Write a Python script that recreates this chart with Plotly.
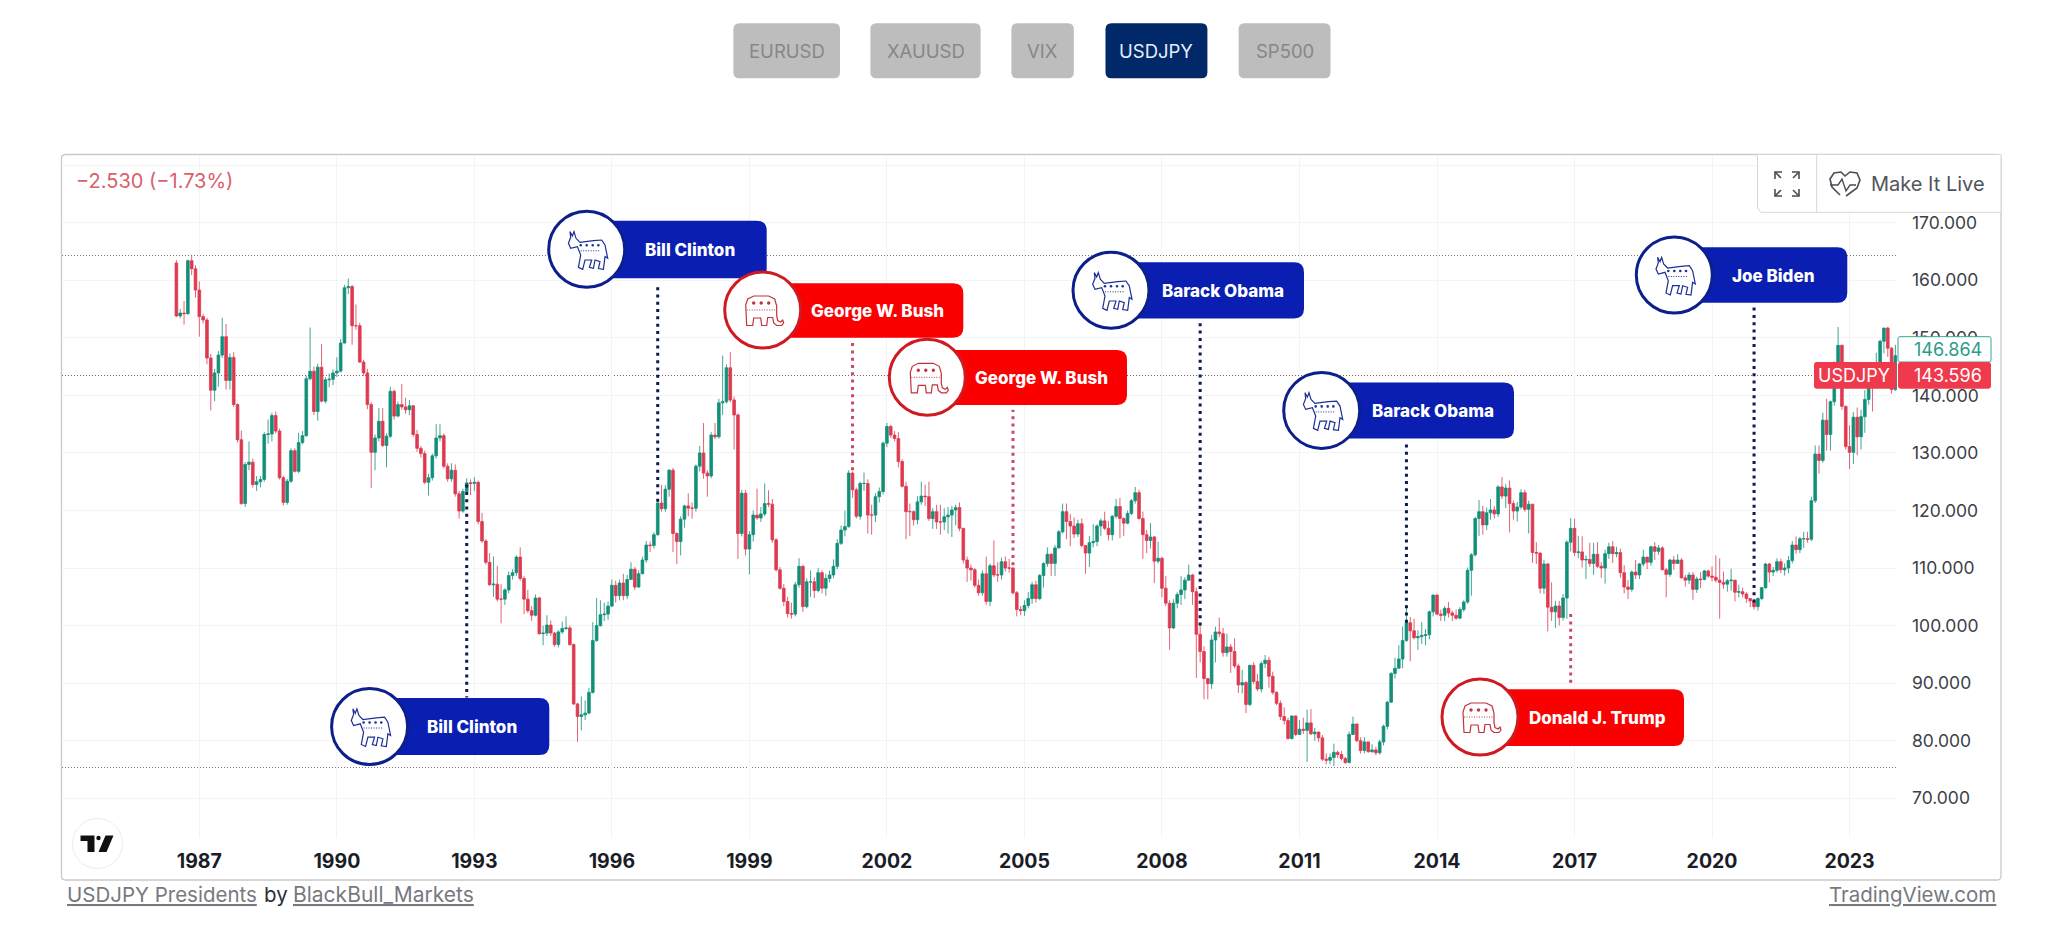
import plotly.graph_objects as go

W, H = 2048, 927

# monthly bars, Jul 1986 to Jan 2024, one row per year
closes = [
    153.8, 154.3, 154.2, 163.4, 162.0, 158.3,
    153.7, 153.1, 146.5, 140.9, 143.9, 147.0, 150.2, 142.6, 146.6, 138.4, 132.3, 121.2,
    128.0, 128.4, 124.5, 125.0, 125.4, 133.2, 133.3, 136.5, 133.8, 125.7, 121.4, 125.1,
    130.4, 126.8, 131.8, 133.0, 142.9, 144.2, 137.2, 144.9, 139.0, 142.7, 142.8, 143.9,
    144.2, 149.1, 158.7, 158.9, 152.1, 152.1, 145.8, 143.9, 138.4, 130.1, 132.6, 135.5,
    131.3, 132.9, 140.7, 136.4, 138.4, 138.0, 137.5, 138.2, 133.2, 130.8, 129.9, 124.9,
    125.7, 129.5, 132.6, 133.0, 127.7, 125.5, 127.0, 122.9, 119.9, 123.3, 124.8, 124.7,
    124.9, 118.1, 114.7, 111.0, 107.1, 107.2, 104.6, 104.6, 106.2, 108.7, 109.2, 111.9,
    108.2, 104.6, 102.6, 101.8, 104.8, 98.6, 98.7, 100.1, 98.7, 96.7, 98.9, 99.5,
    99.6, 96.7, 86.4, 84.2, 84.5, 84.8, 88.4, 97.4, 100.0, 101.9, 102.0, 103.4,
    107.0, 105.2, 107.4, 105.2, 108.0, 109.8, 106.7, 109.0, 111.4, 114.0, 113.9, 115.8,
    121.3, 120.3, 123.7, 127.0, 116.0, 114.6, 118.5, 120.8, 120.4, 120.4, 127.7, 130.0,
    126.5, 126.0, 133.1, 132.8, 138.7, 138.9, 144.8, 139.2, 136.6, 116.0, 123.0, 113.3,
    115.8, 119.2, 118.7, 119.4, 121.2, 121.1, 114.9, 109.7, 106.5, 104.2, 102.1, 102.0,
    107.1, 110.3, 103.3, 107.6, 107.6, 106.1, 109.2, 106.5, 108.2, 108.8, 110.3, 114.3,
    116.6, 117.2, 126.5, 123.6, 119.0, 124.7, 124.7, 119.2, 119.2, 122.4, 123.3, 131.7,
    134.6, 133.1, 132.5, 128.5, 124.2, 119.8, 119.8, 118.4, 121.5, 122.5, 122.4, 118.6,
    119.8, 118.0, 118.0, 118.9, 119.2, 120.1, 120.5, 116.9, 111.4, 110.0, 109.7, 107.0,
    105.7, 109.0, 104.2, 110.4, 108.8, 108.8, 111.1, 110.0, 110.0, 105.7, 102.8, 102.6,
    103.5, 104.7, 107.1, 104.7, 108.7, 110.8, 112.4, 110.8, 113.5, 116.3, 119.8, 118.1,
    117.3, 115.9, 117.7, 113.9, 112.6, 114.4, 114.6, 117.3, 118.2, 116.9, 115.8, 119.0,
    120.7, 118.6, 117.8, 119.5, 121.7, 123.1, 118.6, 115.8, 114.8, 115.4, 111.2, 111.7,
    106.5, 103.9, 99.6, 103.9, 105.4, 106.2, 107.9, 108.8, 105.9, 98.5, 95.5, 90.8,
    89.9, 97.5, 98.9, 98.6, 95.3, 96.3, 95.5, 93.0, 89.7, 90.1, 86.3, 93.1,
    90.3, 89.0, 93.4, 94.0, 91.2, 88.4, 86.5, 84.2, 83.5, 80.4, 84.3, 81.1,
    82.0, 81.8, 83.1, 81.2, 81.5, 80.5, 76.8, 76.6, 77.1, 78.0, 77.6, 76.9,
    76.2, 81.1, 82.9, 80.0, 78.3, 79.8, 78.1, 78.4, 77.9, 79.8, 82.5, 86.7,
    91.7, 92.6, 94.2, 97.4, 100.5, 99.1, 97.9, 98.1, 98.3, 98.4, 102.4, 105.3,
    102.0, 101.8, 103.0, 102.2, 101.8, 101.3, 102.8, 104.1, 109.6, 112.3, 118.6, 119.8,
    117.5, 119.6, 120.1, 119.4, 124.1, 122.5, 123.9, 121.2, 119.9, 120.6, 123.1, 120.2,
    121.1, 112.7, 112.6, 106.5, 110.7, 103.2, 102.4, 103.4, 101.4, 104.8, 114.5, 116.9,
    112.7, 112.8, 111.4, 111.5, 110.8, 112.4, 110.3, 110.0, 112.5, 113.7, 112.5, 112.7,
    109.2, 106.7, 106.3, 109.3, 108.8, 110.7, 111.9, 111.0, 113.7, 112.9, 113.5, 109.7,
    108.9, 111.4, 110.8, 111.4, 108.3, 107.9, 108.8, 106.3, 108.1, 108.0, 109.5, 108.6,
    108.4, 107.9, 107.5, 107.2, 107.8, 107.9, 105.8, 105.9, 105.5, 104.7, 104.3, 103.3,
    104.7, 106.6, 110.7, 109.3, 109.6, 111.1, 109.7, 110.0, 111.3, 114.0, 113.2, 115.1,
    115.1, 115.0, 121.7, 129.8, 128.7, 135.7, 133.2, 138.9, 144.7, 148.7, 138.1, 131.1,
    130.1, 136.2, 132.8, 136.3, 139.3, 144.3, 142.3, 145.5, 149.4, 151.7, 148.2, 141.0,
    146.9,
]
highs = [
    163.5, 155.0, 156.4, 163.6, 164.4, 162.6,
    159.8, 154.1, 153.5, 147.2, 144.6, 147.7, 153.5, 152.4, 147.3, 147.5, 138.6, 133.9,
    128.4, 132.0, 129.0, 126.0, 126.0, 133.6, 135.8, 137.0, 137.2, 134.2, 126.0, 125.5,
    130.8, 130.8, 133.5, 133.8, 143.4, 151.8, 145.0, 145.5, 148.9, 143.2, 143.8, 144.5,
    146.6, 149.8, 159.2, 160.3, 159.2, 155.8, 152.6, 146.2, 144.6, 138.8, 133.2, 137.8,
    137.8, 133.4, 141.5, 141.0, 138.9, 142.0, 139.6, 139.2, 137.6, 134.0, 131.2, 130.4,
    126.4, 129.9, 135.0, 135.0, 133.4, 128.2, 128.2, 128.0, 123.4, 123.8, 125.6, 125.4,
    125.8, 125.2, 119.6, 115.0, 112.6, 112.0, 110.4, 107.2, 106.5, 109.4, 109.8, 112.2,
    113.6, 108.6, 106.2, 103.4, 105.4, 105.0, 100.0, 101.8, 100.9, 98.9, 99.2, 100.7,
    101.6, 100.0, 96.9, 86.6, 87.7, 87.0, 89.2, 100.6, 104.8, 104.4, 104.0, 104.2,
    108.0, 107.8, 108.0, 109.0, 108.8, 111.0, 110.2, 109.6, 112.0, 114.7, 114.6, 116.2,
    121.8, 124.4, 124.4, 127.2, 127.4, 116.2, 119.0, 121.0, 123.0, 121.4, 128.0, 131.2,
    135.2, 127.0, 133.6, 135.2, 139.4, 146.9, 145.4, 147.5, 139.8, 136.9, 123.6, 123.6,
    116.4, 120.0, 123.8, 120.6, 124.7, 123.5, 122.0, 115.2, 110.2, 107.2, 105.0, 104.0,
    107.6, 111.7, 110.6, 108.2, 109.6, 108.4, 110.0, 109.6, 109.0, 109.6, 111.5, 115.0,
    117.4, 120.0, 127.0, 126.8, 124.0, 125.0, 126.6, 125.4, 121.0, 123.0, 124.0, 132.0,
    135.2, 134.9, 133.8, 133.6, 128.9, 125.0, 121.2, 120.0, 122.5, 125.0, 124.5, 125.0,
    120.4, 121.0, 121.0, 120.4, 120.6, 120.8, 121.0, 121.4, 117.0, 112.0, 110.6, 110.0,
    108.0, 109.6, 112.0, 110.8, 114.8, 111.0, 111.8, 112.0, 111.6, 110.2, 106.0, 103.4,
    104.4, 105.8, 107.6, 107.8, 109.0, 111.0, 113.6, 112.6, 114.0, 116.6, 121.2, 121.2,
    119.4, 118.8, 118.4, 118.6, 114.0, 115.6, 117.6, 117.6, 118.6, 119.8, 118.2, 119.2,
    122.0, 122.2, 118.8, 120.0, 122.0, 124.1, 123.6, 119.8, 116.6, 117.8, 115.6, 114.6,
    112.0, 108.6, 104.4, 104.6, 105.8, 108.6, 108.4, 110.6, 109.0, 106.6, 100.4, 96.4,
    90.8, 98.4, 99.8, 101.4, 99.6, 98.6, 96.8, 97.8, 93.4, 92.3, 90.4, 93.2,
    93.6, 91.6, 93.8, 94.9, 94.6, 92.0, 88.6, 87.0, 85.8, 84.0, 84.4, 84.4,
    83.6, 84.0, 85.4, 85.5, 82.2, 81.6, 81.0, 77.8, 77.8, 79.5, 78.3, 78.2,
    77.2, 81.6, 84.2, 83.0, 80.6, 80.6, 79.8, 79.4, 78.9, 80.2, 82.8, 86.9,
    91.9, 94.4, 96.6, 99.8, 103.6, 101.5, 101.2, 99.2, 100.6, 99.4, 102.6, 105.4,
    105.4, 102.8, 103.4, 104.1, 102.6, 102.8, 103.2, 104.4, 110.1, 112.6, 118.9, 121.8,
    120.8, 120.5, 122.0, 120.8, 124.4, 125.8, 124.6, 125.2, 121.7, 121.5, 123.7, 123.6,
    121.7, 121.1, 114.5, 112.7, 111.4, 110.9, 107.5, 104.3, 104.3, 105.5, 114.8, 118.7,
    118.6, 115.6, 115.5, 112.2, 114.4, 114.4, 114.5, 111.0, 113.2, 114.4, 114.7, 113.7,
    113.4, 110.5, 107.9, 109.6, 111.4, 110.9, 113.2, 111.8, 113.9, 114.5, 114.0, 113.8,
    110.0, 111.6, 112.1, 112.4, 111.7, 108.8, 109.3, 109.3, 108.5, 109.3, 109.7, 109.7,
    110.3, 112.2, 111.7, 109.4, 108.1, 109.9, 107.6, 107.1, 106.6, 105.8, 104.8, 104.7,
    104.9, 106.7, 110.9, 110.9, 110.2, 111.7, 111.6, 110.8, 112.1, 114.7, 115.5, 115.4,
    116.3, 116.3, 122.4, 131.3, 131.3, 137.0, 139.4, 139.1, 145.9, 151.9, 148.8, 138.2,
    134.8, 137.1, 137.9, 137.5, 140.9, 145.0, 144.9, 147.4, 149.7, 151.7, 151.9, 148.4,
    148.8,
]
lows = [
    153.6, 153.4, 152.3, 154.0, 160.9, 157.0,
    150.2, 152.5, 145.4, 137.4, 139.0, 141.5, 146.5, 141.0, 141.0, 138.0, 131.8, 121.0,
    120.6, 127.0, 124.0, 123.4, 124.0, 125.0, 131.6, 132.0, 133.4, 125.4, 120.9, 121.0,
    124.8, 126.6, 126.5, 131.5, 132.8, 142.6, 136.6, 135.6, 138.8, 138.6, 141.4, 141.8,
    143.2, 144.0, 149.0, 157.6, 148.8, 151.4, 145.6, 143.4, 137.6, 123.9, 127.0, 132.0,
    131.0, 127.5, 132.6, 135.8, 136.2, 137.5, 136.8, 136.6, 132.8, 130.2, 129.2, 124.6,
    122.6, 125.2, 129.0, 132.0, 127.3, 125.0, 125.0, 122.4, 118.6, 119.6, 123.0, 122.7,
    123.4, 117.6, 114.4, 110.6, 106.9, 105.0, 104.2, 100.4, 103.6, 105.6, 108.0, 108.6,
    107.8, 102.0, 102.2, 100.8, 101.6, 98.4, 96.6, 98.2, 98.2, 96.3, 96.2, 98.6,
    99.2, 96.5, 86.2, 79.8, 81.8, 83.6, 84.6, 88.2, 97.2, 99.8, 100.8, 101.0,
    103.2, 104.0, 104.4, 104.4, 104.6, 108.0, 106.2, 106.6, 109.0, 110.9, 112.8, 113.4,
    115.6, 119.8, 119.8, 122.4, 112.8, 110.7, 112.2, 117.0, 119.0, 118.6, 119.8, 126.8,
    125.5, 122.4, 125.6, 132.4, 132.5, 136.6, 138.6, 138.8, 130.6, 111.6, 115.5, 112.2,
    108.9, 114.6, 118.4, 118.0, 119.0, 120.6, 114.4, 109.4, 106.2, 103.4, 101.4, 101.2,
    101.6, 106.6, 102.4, 103.0, 105.0, 104.8, 105.8, 105.6, 105.2, 107.5, 108.2, 109.8,
    114.0, 115.5, 117.0, 122.2, 118.6, 118.4, 123.4, 116.0, 115.8, 118.0, 121.4, 122.8,
    131.0, 132.6, 132.0, 127.5, 124.0, 115.0, 115.6, 117.4, 117.6, 121.0, 120.8, 118.2,
    116.8, 116.8, 115.8, 116.6, 116.0, 115.4, 117.4, 116.4, 110.8, 107.6, 107.8, 106.6,
    105.2, 105.2, 103.6, 103.4, 108.4, 107.6, 108.0, 109.4, 109.2, 105.4, 101.6, 101.8,
    101.7, 103.0, 103.8, 104.0, 104.4, 106.6, 110.2, 108.6, 108.6, 113.4, 116.0, 115.0,
    113.8, 115.2, 115.4, 113.6, 109.0, 110.2, 113.6, 113.8, 115.6, 116.6, 114.8, 114.8,
    118.6, 115.2, 115.6, 117.6, 119.2, 121.2, 118.4, 111.6, 112.6, 113.4, 107.4, 110.8,
    104.9, 103.4, 95.8, 99.4, 103.0, 103.6, 104.6, 107.8, 103.6, 90.9, 93.6, 87.2,
    87.2, 89.0, 93.6, 98.0, 94.6, 94.6, 91.8, 92.6, 88.3, 88.2, 84.8, 86.0,
    89.8, 88.6, 88.4, 92.6, 89.2, 88.0, 86.2, 83.6, 82.8, 80.2, 80.2, 80.8,
    81.0, 81.2, 76.3, 81.0, 80.0, 79.8, 76.5, 75.9, 75.9, 75.6, 77.0, 76.6,
    76.0, 76.1, 81.0, 79.8, 77.8, 77.8, 77.9, 77.9, 77.5, 77.6, 79.2, 82.0,
    86.6, 90.8, 92.6, 92.6, 97.2, 93.8, 97.6, 95.8, 96.8, 96.6, 97.6, 101.6,
    101.8, 100.8, 100.8, 101.4, 100.8, 101.0, 101.1, 102.4, 103.8, 105.2, 112.0, 115.6,
    115.8, 116.6, 118.4, 118.6, 118.9, 122.0, 120.4, 116.2, 118.4, 118.1, 120.2, 119.8,
    116.0, 110.9, 110.7, 105.6, 105.5, 99.0, 100.8, 99.6, 100.0, 100.9, 101.2, 112.9,
    112.1, 111.7, 110.1, 108.1, 110.2, 108.8, 110.0, 108.3, 107.3, 111.6, 110.9, 111.9,
    108.3, 105.6, 104.6, 105.9, 108.1, 108.1, 110.3, 109.8, 110.4, 111.4, 112.3, 109.6,
    104.9, 108.5, 109.7, 110.8, 108.2, 106.8, 107.2, 104.5, 105.7, 106.5, 107.9, 108.3,
    107.7, 107.5, 101.2, 106.4, 105.9, 106.1, 104.2, 104.9, 104.9, 104.0, 103.2, 102.8,
    102.6, 104.4, 106.4, 107.5, 108.6, 109.2, 109.1, 108.7, 109.1, 110.8, 112.5, 112.6,
    113.5, 114.4, 114.7, 121.3, 126.4, 128.3, 130.4, 130.4, 138.2, 143.5, 137.5, 130.6,
    127.2, 128.1, 129.6, 130.6, 133.5, 138.4, 137.2, 141.5, 144.4, 147.3, 146.7, 140.3,
    140.8,
]
first_open = 163.0

year_labels = ["1987", "1990", "1993", "1996", "1999", "2002", "2005", "2008", "2011", "2014", "2017", "2020", "2023"]
year_bars = [6, 42, 78, 114, 150, 186, 222, 258, 294, 330, 366, 402, 438]
price_ticks = [70, 80, 90, 100, 110, 120, 130, 140, 150, 160, 170, 180]
price_labels = ["70.000", "80.000", "90.000", "100.000", "110.000", "120.000", "130.000", "140.000", "150.000", "160.000", "170.000", ""]

range_high = 164.4
range_low = 75.5
last_price = 143.5

# president label, party, bar the dotted line sits on, dotted line price range
pres_names = ["Bill Clinton", "Bill Clinton", "George W. Bush", "George W. Bush", "Barack Obama", "Barack Obama", "Donald J. Trump", "Joe Biden"]
pres_party = ["D", "D", "R", "R", "D", "D", "R", "D"]
pres_bars = [76, 126, 177, 219, 268, 322, 365, 413]
pres_from = [124.5, 121.5, 127.0, 110.5, 100.0, 100.5, 102.0, 104.0]
pres_to = [87.5, 159.5, 149.3, 137.5, 152.7, 131.7, 89.8, 155.8]

buttons = ["EURUSD", "XAUUSD", "VIX", "USDJPY", "SP500"]

BLUE = "#0a1fb2"
NAVY = "#0c1f8a"
RED = "#fb0000"
DARKRED = "#d01a22"
FONT = "Inter"


def px(x, y):
    return x / W, 1 - y / H


def path(points, close=False):
    out = []
    for n, p in enumerate(points):
        a, b = px(*p)
        out.append(("M" if n == 0 else "L") + f"{a:.5f},{b:.5f}")
    return " ".join(out) + (" Z" if close else "")


def round_rect(x0, y0, x1, y1, r):
    c = []
    for cmd, pts in [("M", [(x0 + r, y0)]), ("L", [(x1 - r, y0)]), ("Q", [(x1, y0), (x1, y0 + r)]),
                     ("L", [(x1, y1 - r)]), ("Q", [(x1, y1), (x1 - r, y1)]), ("L", [(x0 + r, y1)]),
                     ("Q", [(x0, y1), (x0, y1 - r)]), ("L", [(x0, y0 + r)]), ("Q", [(x0, y0), (x0 + r, y0)])]:
        c.append(cmd + " ".join("%.5f,%.5f" % px(*p) for p in pts))
    return " ".join(c) + " Z"


shapes = []
notes = []


def add_path(d, fill=None, line=None, width=1, dash=None, layer="above"):
    ln = dict(color=line or "rgba(0,0,0,0)", width=width if line else 0)
    if dash:
        ln["dash"] = dash
    shapes.append(dict(type="path", xref="paper", yref="paper", path=d, fillcolor=fill or "rgba(0,0,0,0)", line=ln, layer=layer))


def add_box(x0, y0, x1, y1, r, fill=None, line=None, width=1, layer="above"):
    add_path(round_rect(x0, y0, x1, y1, r), fill, line, width, layer=layer)


def add_text(text, x, y, size, color, anchor="center", weight=None):
    a, b = px(x, y)
    font = dict(family=FONT, size=size, color=color)
    if weight:
        font["weight"] = weight
    notes.append(dict(text=text, x=a, y=b, xref="paper", yref="paper", xanchor=anchor, yanchor="middle", showarrow=False, font=font))


def add_circle(cx, cy, r, fill, line, width):
    a0, b0 = px(cx - r, cy + r)
    a1, b1 = px(cx + r, cy - r)
    shapes.append(dict(type="circle", xref="paper", yref="paper", x0=a0, x1=a1, y0=b0, y1=b1, fillcolor=fill, line=dict(color=line, width=width), layer="above"))


def add_hline(y, color):
    y = round(y) + 0.5
    a0, b = px(PLOT_L, y)
    a1, _ = px(PLOT_R, y)
    shapes.append(dict(type="line", xref="paper", yref="paper", x0=a0, x1=a1, y0=b, y1=b, line=dict(color=color, width=1, dash="1px,2px"), layer="below"))


def donkey(cx, cy):
    c = "#1c2f96"
    pts = [(-16.7, -17.7), (-14.3, -13.3), (-12.7, -17.7), (-10.7, -11), (-6.7, -7), (6.7, -8.7), (15, -9.3), (18.3, -4.3),
           (21, 9), (18.3, 7.3), (16.7, 20), (11.7, 19.3), (13.3, 12.3), (8.3, 10.7), (6.7, 19), (2.7, 18), (5, 10.7),
           (-1.7, 10.7), (-4, 20), (-8.3, 18), (-6, 5.7), (-9.3, -2.7), (-16, -1), (-18.3, -6), (-16, -12)]
    add_path(path([(cx + a, cy + b) for a, b in pts], True), None, c, 1.2)
    for a in [-6, 0, 6, 11.7]:
        add_circle(cx + a, cy - 4, 1.3, c, c, 0)
    add_path(path([(cx - 6, cy + 1.5), (cx + 14, cy + 1.5)]), None, c, 1, "1px,1.5px")


def elephant(cx, cy):
    c = "#c4313a"
    pts = [(-16, 15.5), (-17, -5), (-15, -11), (-9, -14), (6, -14), (12, -11), (14, -4), (14, 6), (15, 10.5), (18, 12), (20, 10),
           (21, 13), (19, 15.5), (14, 15.5), (11, 13), (10, 7.5), (5, 7.5), (4, 15.5), (-1, 15.5), (-2, 8), (-9, 8), (-10, 15.5)]
    add_path(path([(cx + a, cy + b) for a, b in pts], True), None, c, 1.2)
    for a in [-9, -1.5, 6]:
        add_circle(cx + a, cy - 7, 1.7, c, c, 0)
    add_path(path([(cx - 16, cy), (cx + 14, cy)]), None, c, 1, "1px,1.5px")


# pixel layout of the chart pane
PLOT_L, PLOT_R, PLOT_T, PLOT_B = 62, 1897, 155, 838
BAR0_X, BAR_W = 176.4, 3.82
Y170, Y_PER = 222.7, 5.756

opens = [first_open] + closes[:-1]
bars = list(range(len(closes)))

fig = go.Figure()
fig.add_trace(go.Candlestick(
    x=bars, open=opens, high=highs, low=lows, close=closes,
    increasing=dict(line=dict(color="#128f78", width=0.8), fillcolor="#128f78"),
    decreasing=dict(line=dict(color="#dd3a50", width=0.8), fillcolor="#dd3a50"),
    whiskerwidth=0, hoverinfo="skip", showlegend=False,
))

for party, bar, a, b in zip(pres_party, pres_bars, pres_from, pres_to):
    fig.add_trace(go.Scatter(
        x=[bar, bar], y=[a, b], mode="lines", showlegend=False, hoverinfo="skip",
        line=dict(color="#0b1a50" if party == "D" else "#c84a68", width=3, dash="3px,4.3px"),
    ))

# pane frame and the dotted range lines
add_box(61.5, 154.5, 2001, 880, 4, None, "#c9c9c9", 1.3, layer="below")
add_hline(Y170 + (170 - range_high) * Y_PER, "#777777")
add_hline(Y170 + (170 - last_price) * Y_PER, "#8a5a5a")
add_hline(Y170 + (170 - range_low) * Y_PER, "#777777")

# president labels: circle centre, box right edge, box top and bottom, text centre
label_px = [
    (369.6, 726.5, 549.3, 698, 755, 471.5),
    (586.7, 249.3, 766.7, 220.7, 278.3, 690),
    (762.7, 310, 963.3, 283.3, 337.7, 877.3),
    (927.3, 377.3, 1127, 350, 405, 1041),
    (1111, 290.3, 1304, 262.3, 318.4, 1223),
    (1321.7, 410.4, 1514, 382.6, 438.4, 1433),
    (1480, 717, 1684, 689.3, 746, 1597),
    (1674.3, 275, 1847.3, 247.3, 302.7, 1773.3),
]
for name, party, lp in zip(pres_names, pres_party, label_px):
    cx, cy, right, top, bottom, tx = lp
    col = BLUE if party == "D" else RED
    add_box(cx, top, right, bottom, 10, col)
    add_circle(cx, cy, 38, "white", NAVY if party == "D" else DARKRED, 3)
    if party == "D":
        donkey(cx, cy)
    else:
        elephant(cx, cy)
    add_text(name, tx, cy + 0.5, 17, "white", weight=800)

# last price tags
add_box(1814, 362, 1896.5, 388.7, 3, "#ef3a4e")
add_box(1898, 336.7, 1991, 362, 2, "white", "#33a893", 1)
add_box(1898, 362, 1991, 388.7, 3, "#ef3a4e")
add_text("USDJPY", 1854, 375.5, 18, "white")
add_text("146.864", 1911.5, 349.5, 18, "#2c9c88", "left")
add_text("143.596", 1911.5, 375.5, 18, "white", "left")

# top right tool buttons
add_path(path([(1757.5, 154.5), (1757.5, 208), (1761, 212.3), (2001, 212.3), (2001, 154.5)], True), "white", "#d6d6d6", 1)
add_path(path([(1816.7, 154.5), (1816.7, 212.3)]), None, "#d6d6d6", 1)
for sx, sy in [(-1, -1), (1, -1), (-1, 1), (1, 1)]:
    ex, ey = 1787 + sx * 12, 184 + sy * 12
    add_path(path([(ex - sx * 7, ey), (ex, ey), (ex, ey - sy * 7)]), None, "#4a4e57", 1.6)
    add_path(path([(ex, ey), (ex - sx * 6, ey - sy * 6)]), None, "#4a4e57", 1.6)
heart = [(1840, 195), (1832, 187), (1830, 179), (1834, 173), (1841, 172), (1845, 176), (1850, 172), (1857, 173), (1860, 180), (1857, 188), (1846, 196)]
add_path(path(heart), None, "#4a4e57", 1.6)
add_path(path([(1830, 185), (1838, 185), (1842, 179), (1846, 191), (1850, 185), (1856, 185)]), None, "#4a4e57", 1.4)
add_text("Make It Live", 1928, 184, 20, "#50545c")

add_text("\u22122.530 (\u22121.73%)", 74, 180.7, 20, "#d9606c", "left")

# tradingview badge
add_circle(97.5, 843.5, 25, "white", "#ececec", 1)
add_path(path([(80.5, 835.5), (94.5, 835.5), (94.5, 852), (87.5, 852), (87.5, 841), (80.5, 841)], True), "#111111")
add_circle(98.5, 838, 2.2, "#111111", "#111111", 0)
add_path(path([(105.5, 835.5), (113.5, 835.5), (106.5, 852), (98.5, 852)], True), "#111111")

# symbol buttons above the pane
button_px = [(733.4, 840), (870.4, 980.6), (1011.4, 1073.8), (1105.5, 1207.4), (1238.6, 1330.5)]
for name, (a, b) in zip(buttons, button_px):
    active = name == "USDJPY"
    add_box(a, 23.3, b, 78.3, 6, "#012868" if active else "#bdbdbd")
    add_text(name, (a + b) / 2, 51, 18.5, "#e6eef9" if active else "#878787")

# footer links
add_text("<u>USDJPY Presidents</u>", 65, 894, 20.5, "#77797e", "left")
add_text("by", 262, 894, 20.5, "#2a2e39", "left")
add_text("<u>BlackBull_Markets</u>", 291, 894, 21, "#77797e", "left")
add_text("<u>TradingView.com</u>", 1998, 894, 20.5, "#77797e", "right")

fig.update_layout(
    width=W, height=H, autosize=False,
    margin=dict(l=0, r=0, t=0, b=0),
    paper_bgcolor="white", plot_bgcolor="white",
    hovermode=False, dragmode=False,
    boxgap=0.3, boxgroupgap=0,
    shapes=shapes, annotations=notes,
    xaxis=dict(
        domain=[PLOT_L / W, PLOT_R / W],
        range=[(PLOT_L - BAR0_X) / BAR_W, (PLOT_R - BAR0_X) / BAR_W],
        rangeslider=dict(visible=False),
        tickmode="array", tickvals=year_bars, ticktext=year_labels,
        tickfont=dict(family=FONT, size=19.5, color="#1a1d26", weight=700),
        ticks="", ticklabelstandoff=9,
        showgrid=True, gridcolor="#f3f4f6", gridwidth=1, zeroline=False, showline=False,
    ),
    yaxis=dict(
        domain=[1 - PLOT_B / H, 1 - PLOT_T / H],
        range=[170 - (PLOT_B - Y170) / Y_PER, 170 + (Y170 - PLOT_T) / Y_PER],
        side="right",
        tickmode="array", tickvals=price_ticks, ticktext=price_labels,
        tickfont=dict(family=FONT, size=17.5, color="#3b3f48"),
        ticks="", ticklabelstandoff=14,
        showgrid=True, gridcolor="#f3f4f6", gridwidth=1, zeroline=False, showline=False,
    ),
)

fig.write_html("out.html", config={"displayModeBar": False},
               post_script="document.body.style.margin='0';document.body.style.overflow='hidden';")
